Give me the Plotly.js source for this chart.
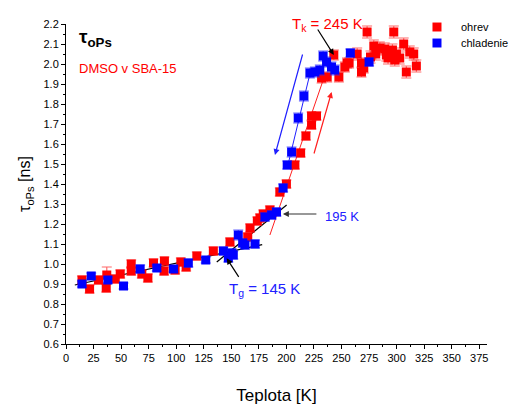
<!DOCTYPE html>
<html><head><meta charset="utf-8">
<script src="https://cdn.plot.ly/plotly-3.0.1.min.js"></script>
<style>html,body{margin:0;padding:0;background:#fff}#chart{width:511px;height:405px}</style>
</head><body><div id="chart"></div>
<script>
// ohrev (heating) data: temperature [K], tau [ns], error [ns]
const ohrevT = [14.5,21.4,29.5,36.5,37,44.7,49.2,59.2,59.2,68.8,74.3,79.4,89.3,89,99,104.2,109,118.7,133.7,148.8,164.9,167,173.6,176,179,185,194,200,207.7,212.9,217.7,222.8,222.8,227.3,231.9,237,243,247.6,253,255,256.9,264.2,268.1,268.1,270.2,273.2,276.3,279.3,281,284.7,289.2,290.7,292.2,296.2,297.4,298.3,299.8,302.8,306.4,308.8,311.9,315.5,317.9];
const ohrevV = [0.92,0.875,0.92,0.88,0.945,0.925,0.95,1.0,0.965,0.95,0.93,1.005,1.015,0.965,0.97,1.01,0.985,1.04,1.065,1.11,1.135,1.18,1.215,1.23,1.25,1.27,1.36,1.40,1.495,1.555,1.64,1.695,1.74,1.74,1.93,1.935,2.045,1.935,1.985,2.005,2.005,2.05,2.005,1.96,1.98,2.16,2.035,2.09,2.05,2.08,2.075,2.045,2.03,2.07,2.16,2.02,2.05,2.03,2.10,1.96,2.06,2.05,1.99];
const ohrevE = [0.02,0.02,0.02,0.02,0.04,0.02,0.02,0.02,0.02,0.02,0.02,0.02,0.02,0.02,0.02,0.02,0.02,0.02,0.02,0.02,0.02,0.02,0.02,0.02,0.02,0.02,0.02,0.02,0.02,0.02,0.02,0.02,0.02,0.02,0.025,0.025,0.025,0.025,0.025,0.025,0.025,0.03,0.025,0.025,0.025,0.03,0.03,0.03,0.03,0.03,0.03,0.03,0.03,0.03,0.03,0.03,0.03,0.03,0.03,0.03,0.03,0.03,0.03];
// chladenie (cooling) data
const chladT = [14.5,22.9,38,52.2,67.3,82.4,97.5,111,126.8,142.8,147.3,150.4,151.8,156.3,160.3,162.4,171.5,180.5,186.6,191,197,200.7,204.7,210.7,215.9,221.3,225.8,230.3,233.3,236.4,240.9,243.9,258,275];
const chladV = [0.90,0.94,0.92,0.89,0.975,0.98,0.975,1.005,1.02,1.065,1.03,1.055,1.045,1.145,1.105,1.095,1.10,1.235,1.245,1.26,1.38,1.495,1.56,1.73,1.84,1.955,1.96,1.97,2.04,2.01,1.985,1.97,2.055,2.01];
const chladE = [0.015,0.015,0.015,0.015,0.02,0.015,0.015,0.02,0.015,0.02,0.02,0.02,0.02,0.025,0.02,0.02,0.02,0.02,0.02,0.02,0.02,0.02,0.025,0.025,0.025,0.025,0.025,0.025,0.025,0.025,0.025,0.025,0.02,0.02];
// fit lines (endpoints)
const fitLowT = [8, 178], fitLowV = [0.895, 1.097];
const fitMidT = [136.8, 200.2], fitMidV = [1.01, 1.295];
const fitRedT = [185, 234], fitRedV = [1.145, 1.93];
const fitBlueT = [201.6, 221.3], fitBlueV = [1.50, 1.95];
// axis ticks
const xTicks = [0,25,50,75,100,125,150,175,200,225,250,275,300,325,350,375];
const yTicks = [0.6,0.7,0.8,0.9,1.0,1.1,1.2,1.3,1.4,1.5,1.6,1.7,1.8,1.9,2.0,2.1,2.2];
// legend labels
const seriesNames = ['ohrev', 'chladenie'];
const seriesColors = ['#ff0000', '#0000ff'];

const F = 'Arial, "Liberation Sans", sans-serif';
const traces = [
  {x: fitLowT, y: fitLowV, mode:'lines', line:{color:'#000', width:1.2}, showlegend:false, hoverinfo:'skip'},
  {x: fitMidT, y: fitMidV, mode:'lines', line:{color:'#000', width:1.2}, showlegend:false, hoverinfo:'skip'},
  {x: fitRedT, y: fitRedV, mode:'lines', line:{color:'#ff2020', width:1}, showlegend:false, hoverinfo:'skip'},
  {x: fitBlueT, y: fitBlueV, mode:'lines', line:{color:'#2020ff', width:1}, showlegend:false, hoverinfo:'skip'},
  {x: ohrevT, y: ohrevV, name:seriesNames[0], mode:'markers', type:'scatter',
   marker:{symbol:'square', size:9, color:seriesColors[0]},
   error_y:{type:'data', array: ohrevE, visible:true, color:'rgba(255,40,40,0.7)', thickness:1.2, width:5}},
  {x: chladT, y: chladV, name:seriesNames[1], mode:'markers', type:'scatter',
   marker:{symbol:'square', size:9, color:seriesColors[1]},
   error_y:{type:'data', array: chladE, visible:true, color:'rgba(40,40,255,0.7)', thickness:1.2, width:5}}
];
// manual legend (symbols as paper shapes, labels as annotations)
const legY = [0.9906, 0.9406];
const legShapes = seriesNames.map((n, i) => ({type:'rect', xref:'paper', yref:'paper',
  x0:0.8705, x1:0.8919, y0:legY[i]-0.014, y1:legY[i]+0.014, fillcolor:seriesColors[i], line:{width:0}}));
const legAnn = seriesNames.map((n, i) => ({xref:'paper', yref:'paper', x:0.9335, y:legY[i], xanchor:'left', yanchor:'middle',
  showarrow:false, text:n, font:{size:11, family:F, color:'#000'}}));

const layout = {
  width:511, height:405,
  margin:{l:66, r:24, t:24, b:61},
  paper_bgcolor:'#fff', plot_bgcolor:'#fff',
  font:{family:F, size:11, color:'#000'},
  showlegend:false,
  xaxis:{range:[0,382], tickvals:xTicks, ticks:'outside', ticklen:4, tickcolor:'#000', showline:true, linecolor:'#000', linewidth:1,
    showgrid:false, zeroline:false, tickfont:{size:11, family:F},
    minor:{dtick:12.5, tick0:0, ticks:'outside', ticklen:2, tickcolor:'#000', showgrid:false},
    title:{text:'Teplota [K]', font:{size:17, family:F}, standoff:28}},
  yaxis:{range:[0.6,2.2], tickvals:yTicks, tickformat:'.1f', ticks:'outside', ticklen:4, tickcolor:'#000', showline:true, linecolor:'#000', linewidth:1,
    showgrid:false, zeroline:false, tickfont:{size:11, family:F},
    minor:{dtick:0.05, tick0:0.6, ticks:'outside', ticklen:2, tickcolor:'#000', showgrid:false},
    title:{text:'τ<sub>oPs</sub> [ns]', font:{size:16, family:F}, standoff:8}},
  shapes: legShapes,
  annotations:[
    {xref:'paper', yref:'paper', x:0.027, y:0.955, xanchor:'left', yanchor:'middle', showarrow:false, text:'<b>τ<sub>oPs</sub></b>', font:{size:19, family:F, color:'#000'}},
    {xref:'paper', yref:'paper', x:0.027, y:0.86, xanchor:'left', yanchor:'middle', showarrow:false, text:'DMSO v SBA-15', font:{size:13, family:F, color:'#ff0000'}},
    {x:243, y:2.045, ax:-17, ay:-27, axref:'pixel', ayref:'pixel', text:'', showarrow:true, arrowhead:2, arrowsize:1, arrowwidth:1.2, arrowcolor:'#000'},
    {xref:'x', yref:'y', x:203.5, y:2.2, xanchor:'left', yanchor:'middle', showarrow:false, text:'T<sub>k</sub> = 245 K', font:{size:15, family:F, color:'#ff0000'}},
    {x:145.8, y:1.0285, ax:13, ay:20, text:'', showarrow:true, arrowhead:2, arrowsize:1, arrowwidth:1.2, arrowcolor:'#000'},
    {xref:'x', yref:'y', x:146.5, y:0.875, xanchor:'left', yanchor:'middle', showarrow:false, text:'T<sub>g</sub> = 145 K', font:{size:15, family:F, color:'#2020ff'}},
    {x:196.8, y:1.25, ax:35, ay:0, text:'', showarrow:true, arrowhead:2, arrowsize:1, arrowwidth:1.2, arrowcolor:'#333'},
    {xref:'x', yref:'y', x:233.5, y:1.24, xanchor:'left', yanchor:'middle', showarrow:false, text:'195 K', font:{size:13, family:F, color:'#2020ff'}},
    {x:241, y:1.86, ax:-18, ay:63, text:'', showarrow:true, arrowhead:2, arrowsize:1, arrowwidth:1.2, arrowcolor:'#ff2020'},
    {x:189.6, y:1.545, ax:28, ay:-102, text:'', showarrow:true, arrowhead:2, arrowsize:1, arrowwidth:1.2, arrowcolor:'#2020ff'}
  ].concat(legAnn)
};
Plotly.newPlot('chart', traces, layout, {displayModeBar:false, staticPlot:true});
</script></body></html>
